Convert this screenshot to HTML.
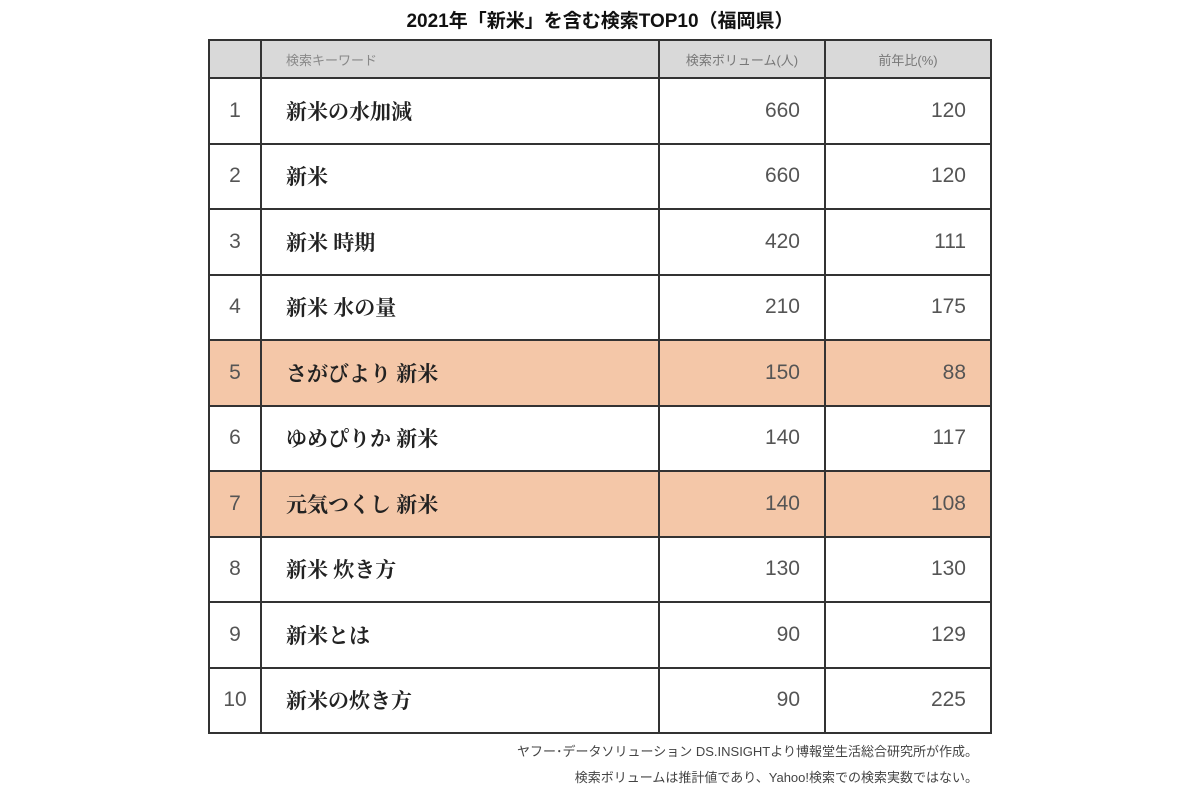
<!DOCTYPE html><html><head><meta charset="utf-8"><style>
body{margin:0;width:1200px;height:800px;background:#fff;position:relative;overflow:hidden;font-family:"Liberation Sans","Noto Sans CJK JP",sans-serif}
.t{position:absolute;top:6px;left:0;width:1200px;text-align:center;font-size:19px;font-weight:bold;color:#111}
table{position:absolute;left:208px;top:39px;border-collapse:collapse;border:2px solid #333}
td{border:2px solid #333;padding:0;color:#555;font-size:21px}
tr.h td{background:#d9d9d9;height:36px;font-size:13px;color:#777;border-bottom:2px solid #333}
tr.r td{height:63.5px}
td.n{width:50px;text-align:center}
td.k{width:398px;padding-left:24px;box-sizing:border-box;font-family:"Liberation Serif","Noto Serif CJK SC",serif;font-weight:bold;color:#222;font-size:21px}
td.v{width:166px;text-align:right;padding-right:24px;box-sizing:border-box}
td.p{width:166px;text-align:right;padding-right:24px;box-sizing:border-box}
tr.h td.k{font-family:"Liberation Sans","Noto Sans CJK JP",sans-serif;font-weight:normal;color:#888;font-size:13px}
tr.h td.v,tr.h td.p{text-align:center;padding-right:0}
tr.o td{background:#f4c7a8}
.f{position:absolute;right:222px;font-size:13px;color:#444}
</style></head><body>
<div class="t">2021年「新米」を含む検索TOP10（福岡県）</div>
<table>
<tr class="h"><td class="n"></td><td class="k">検索キーワード</td><td class="v">検索ボリューム(人)</td><td class="p">前年比(%)</td></tr>
<tr class="r"><td class="n">1</td><td class="k">新米の水加減</td><td class="v">660</td><td class="p">120</td></tr>
<tr class="r"><td class="n">2</td><td class="k">新米</td><td class="v">660</td><td class="p">120</td></tr>
<tr class="r"><td class="n">3</td><td class="k">新米 時期</td><td class="v">420</td><td class="p">111</td></tr>
<tr class="r"><td class="n">4</td><td class="k">新米 水の量</td><td class="v">210</td><td class="p">175</td></tr>
<tr class="r o"><td class="n">5</td><td class="k">さがびより 新米</td><td class="v">150</td><td class="p">88</td></tr>
<tr class="r"><td class="n">6</td><td class="k">ゆめぴりか 新米</td><td class="v">140</td><td class="p">117</td></tr>
<tr class="r o"><td class="n">7</td><td class="k">元気つくし 新米</td><td class="v">140</td><td class="p">108</td></tr>
<tr class="r"><td class="n">8</td><td class="k">新米 炊き方</td><td class="v">130</td><td class="p">130</td></tr>
<tr class="r"><td class="n">9</td><td class="k">新米とは</td><td class="v">90</td><td class="p">129</td></tr>
<tr class="r"><td class="n">10</td><td class="k">新米の炊き方</td><td class="v">90</td><td class="p">225</td></tr>
</table>
<div class="f" style="top:741px">ヤフー･データソリューション DS.INSIGHTより博報堂生活総合研究所が作成。</div>
<div class="f" style="top:767px">検索ボリュームは推計値であり、Yahoo!検索での検索実数ではない。</div>
</body></html>
